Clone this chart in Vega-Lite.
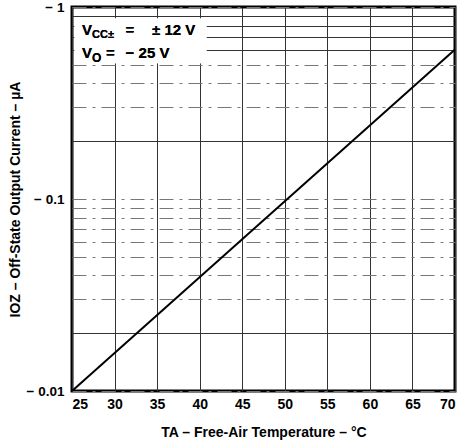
{
  "$schema": "https://vega.github.io/schema/vega-lite/v6.json",
  "autosize": {"type": "none"},
  "width": 383,
  "height": 384,
  "padding": {"left": 72, "top": 7, "right": 18, "bottom": 55},
  "background": "white",
  "config": {
    "view": {"stroke": "black", "strokeWidth": 3},
    "font": "Liberation Sans"
  },
  "datasets": {
    "curve": [
      {"temp": 25, "current": -0.01},
      {"temp": 70, "current": -0.6}
    ]
  },
  "data": {"name": "curve"},
  "encoding": {
    "x": {
      "field": "temp", "type": "quantitative",
      "scale": {"domain": [25, 70], "nice": false},
      "axis": {
        "values": [25, 30, 35, 40, 45, 50, 55, 60, 65, 70],
        "title": "TA – Free-Air Temperature – °C",
        "titleFont": "Liberation Sans", "titleFontSize": 14, "titleFontWeight": "bold", "titleColor": "black", "titlePadding": 14,
        "labelFont": "Liberation Sans", "labelFontSize": 14, "labelFontWeight": "bold", "labelColor": "black", "labelPadding": 6,
        "ticks": false, "domain": false,
        "grid": true, "gridColor": "#333", "gridWidth": 1
      }
    },
    "y": {
      "field": "current", "type": "quantitative",
      "scale": {"type": "log", "domain": [-1, -0.01], "reverse": true, "nice": false},
      "axis": {
        "values": [-0.01, -0.02, -0.03, -0.04, -0.05, -0.06, -0.07, -0.08, -0.09, -0.1, -0.2, -0.3, -0.4, -0.5, -0.6, -0.7, -0.8, -0.9, -1],
        "labelExpr": "indexof([-1, -0.1, -0.01], datum.value) >= 0 ? '− ' + toString(abs(datum.value)) : ''",
        "title": "IOZ – Off-State Output Current – µA",
        "titleFont": "Liberation Sans", "titleFontSize": 14, "titleFontWeight": "bold", "titleColor": "black", "titlePadding": 4,
        "labelFont": "Liberation Sans", "labelFontSize": 13.5, "labelFontWeight": "bold", "labelColor": "black", "labelPadding": 8,
        "ticks": false, "domain": false,
        "grid": true,
        "gridColor": {"condition": {"test": "indexof([-0.02, -0.2, -0.6, -0.7, -0.8, -0.9], datum.value) >= 0", "value": "#333"}, "value": "#777"},
        "gridDash": {"condition": {"test": "indexof([-0.02, -0.2, -0.6, -0.7, -0.8, -0.9], datum.value) >= 0", "value": []}, "value": [14, 6, 3, 6]},
        "gridWidth": 1
      }
    }
  },
  "layer": [
    {
      "mark": {"type": "rect", "fill": "white", "stroke": null},
      "encoding": {
        "x": {"datum": 25.3}, "x2": {"datum": 40.8},
        "y": {"datum": -0.87}, "y2": {"datum": -0.51}
      }
    },
    {
      "mark": {"type": "line", "color": "black", "strokeWidth": 2}
    },
    {
      "mark": {"type": "text", "text": "V", "font": "Liberation Sans", "fontSize": 15, "fontWeight": "bold", "align": "left", "baseline": "alphabetic", "color": "black"},
      "encoding": {"x": {"datum": 26.17}, "y": {"datum": -0.715}}
    },
    {
      "mark": {"type": "text", "text": "CC±", "font": "Liberation Sans", "fontSize": 11, "fontWeight": "bold", "align": "left", "baseline": "alphabetic", "color": "black"},
      "encoding": {"x": {"datum": 27.35}, "y": {"datum": -0.69}}
    },
    {
      "mark": {"type": "text", "text": "=", "font": "Liberation Sans", "fontSize": 15, "fontWeight": "bold", "align": "left", "baseline": "alphabetic", "color": "black"},
      "encoding": {"x": {"datum": 31.3}, "y": {"datum": -0.715}}
    },
    {
      "mark": {"type": "text", "text": "± 12 V", "font": "Liberation Sans", "fontSize": 15, "fontWeight": "bold", "align": "left", "baseline": "alphabetic", "color": "black"},
      "encoding": {"x": {"datum": 34.4}, "y": {"datum": -0.715}}
    },
    {
      "mark": {"type": "text", "text": "V", "font": "Liberation Sans", "fontSize": 15, "fontWeight": "bold", "align": "left", "baseline": "alphabetic", "color": "black"},
      "encoding": {"x": {"datum": 26.17}, "y": {"datum": -0.543}}
    },
    {
      "mark": {"type": "text", "text": "O", "font": "Liberation Sans", "fontSize": 12, "fontWeight": "bold", "align": "left", "baseline": "alphabetic", "color": "black"},
      "encoding": {"x": {"datum": 27.35}, "y": {"datum": -0.518}}
    },
    {
      "mark": {"type": "text", "text": "=", "font": "Liberation Sans", "fontSize": 15, "fontWeight": "bold", "align": "left", "baseline": "alphabetic", "color": "black"},
      "encoding": {"x": {"datum": 29.0}, "y": {"datum": -0.543}}
    },
    {
      "mark": {"type": "text", "text": "− 25 V", "font": "Liberation Sans", "fontSize": 15, "fontWeight": "bold", "align": "left", "baseline": "alphabetic", "color": "black"},
      "encoding": {"x": {"datum": 31.3}, "y": {"datum": -0.543}}
    }
  ]
}
